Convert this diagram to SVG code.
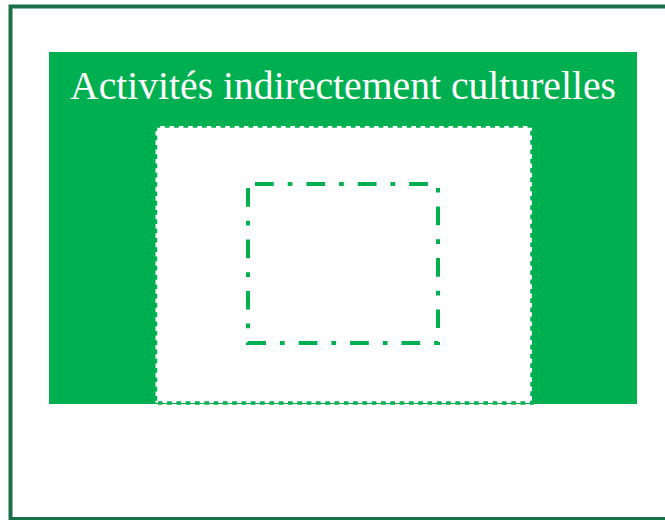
<svg xmlns="http://www.w3.org/2000/svg" width="665" height="520" viewBox="0 0 665 520">
  <style>
    .frame { fill: #ffffff; stroke: #1b6f48; stroke-width: 4; }
    .band { fill: #00b050; }
    .title { font-family: "Liberation Serif", "DejaVu Serif", serif; font-size: 39px; fill: #ffffff; }
    .dotted { fill: #ffffff; stroke: #00b050; stroke-width: 3.5; stroke-dasharray: 4.7 4.6; }
    .dashdot { fill: none; stroke: #00b050; stroke-width: 4; stroke-dasharray: 18.7 14 4.7 14; stroke-dashoffset: 44.4; }
  </style>
  <rect width="665" height="520" fill="#ffffff"/>
  <g id="outer-frame">
    <rect class="frame" x="10.5" y="6.5" width="700" height="512.5"/>
  </g>
  <g id="indirect-activities">
    <rect class="band" x="49" y="52" width="588" height="352"/>
    <text class="title" x="343" y="99" text-anchor="middle" textLength="546" lengthAdjust="spacingAndGlyphs">Activités indirectement culturelles</text>
  </g>
  <g id="middle-box">
    <rect class="dotted" x="155.5" y="126" width="376.5" height="277"/>
  </g>
  <g id="inner-box">
    <rect class="dashdot" x="248" y="184" width="190" height="159"/>
  </g>
</svg>
